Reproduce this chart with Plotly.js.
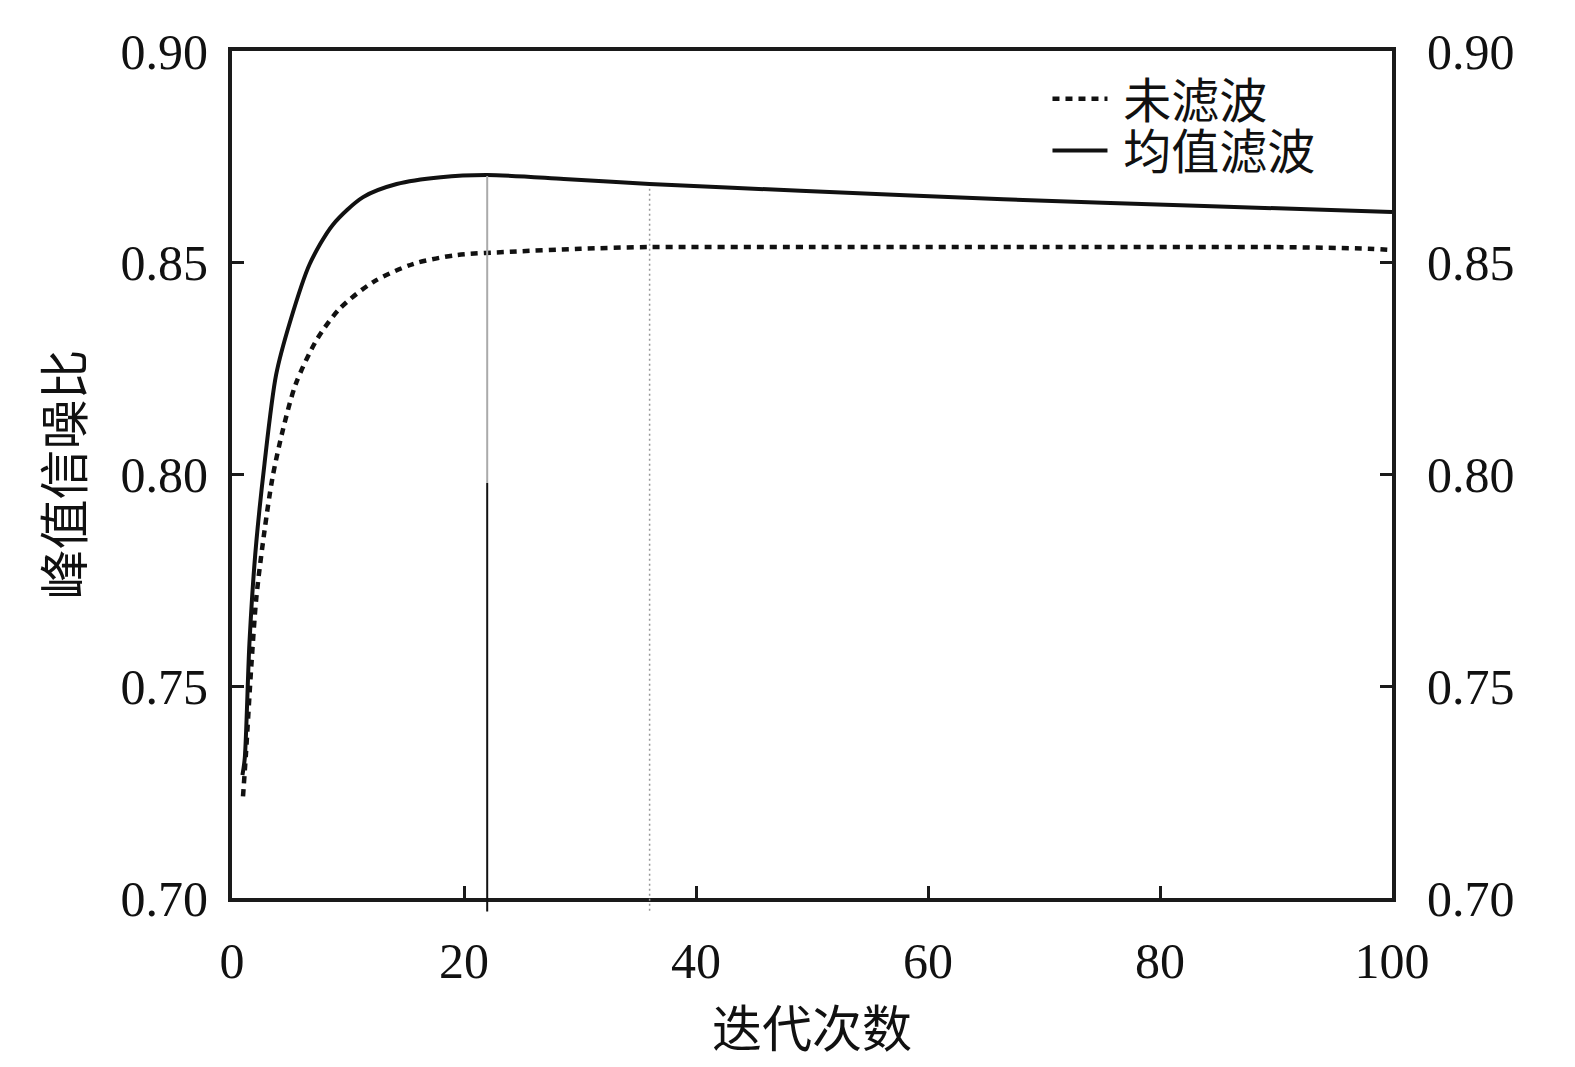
<!DOCTYPE html>
<html>
<head>
<meta charset="utf-8">
<script src="https://cdn.plot.ly/plotly-3.0.1.min.js"></script>
<style>
  html, body { margin: 0; padding: 0; background: #fff; }
  #chart { width: 1575px; height: 1067px; }
</style>
</head>
<body>
<div id="chart"></div>
<script>
// PSNR vs iteration count
const rawIter = [0.95, 1.2, 1.67, 2.1, 2.8, 3.5, 4.4, 5.5, 7.3, 9.3, 12.2, 15.6, 19.3, 24, 30, 36, 50, 70, 90, 98, 100];
const rawPsnr = [0.724, 0.734, 0.755, 0.771, 0.7867, 0.7994, 0.8107, 0.8214, 0.8318, 0.8392, 0.8455, 0.8497, 0.8518, 0.8526, 0.8533, 0.8537, 0.8537, 0.8537, 0.8537, 0.8533, 0.8530];

const meanIter = [0.9, 1.1, 1.5, 2, 2.8, 3.8, 5, 6.7, 8.7, 11.3, 14.2, 18, 22, 28.6, 36, 49, 66.5, 83.8, 100];
const meanPsnr = [0.729, 0.733, 0.760, 0.781, 0.8025, 0.8235, 0.836, 0.8497, 0.859, 0.8655, 0.8686, 0.8702, 0.8707, 0.8698, 0.8686, 0.867, 0.865, 0.8634, 0.862];

const seriesNames = ["未滤波", "均值滤波"];
const xTicks = [0, 20, 40, 60, 80, 100];
const yTicks = [0.70, 0.75, 0.80, 0.85, 0.90];
const xRange = [0, 100];
const yRange = [0.70, 0.90];

// vertical marker lines (iteration where each curve peaks / settles)
const markIter = [22, 36];
const markTop = [0.8705, 0.868];
const markSplit = 0.798;
const markBottom = 0.697;

const SERIF = "Liberation Serif, Noto Sans CJK SC, serif";
const CJK = "Noto Sans CJK SC";
const toPaper = (v) => (v - yRange[0]) / (yRange[1] - yRange[0]);

const traces = [
  {
    x: rawIter, y: rawPsnr, name: " " + seriesNames[0], mode: "lines",
    line: { color: "#111", width: 4.5, dash: "7px,6px", shape: "spline", smoothing: 0.8 },
    legend: "legend", hoverinfo: "skip",
  },
  {
    x: meanIter, y: meanPsnr, name: " " + seriesNames[1], mode: "lines",
    line: { color: "#111", width: 4, shape: "spline", smoothing: 0.8 },
    legend: "legend2", hoverinfo: "skip",
  },
  { x: [null], y: [null], yaxis: "y2", showlegend: false, hoverinfo: "skip" },
];

const axisCommon = {
  showline: true, linecolor: "#1a1a1a", linewidth: 4,
  ticks: "inside", ticklen: 12, tickwidth: 3, tickcolor: "#1a1a1a",
  showgrid: false, zeroline: false,
  tickfont: { family: SERIF, size: 50, color: "#111" },
};

const legendCommon = {
  xanchor: "left", yanchor: "top",
  bgcolor: "rgba(0,0,0,0)", borderwidth: 0,
  font: { family: CJK, size: 48, color: "#111" },
  itemwidth: 55, tracegroupgap: 0,
};

const shapes = [
  { type: "line", xref: "x", yref: "y", x0: markIter[0], x1: markIter[0], y0: markSplit, y1: markTop[0],
    line: { color: "#aaaaaa", width: 2 } },
  { type: "line", xref: "x", yref: "paper", x0: markIter[0], x1: markIter[0],
    y0: toPaper(markBottom) - 0.001, y1: toPaper(markSplit),
    line: { color: "#111", width: 2 } },
  { type: "line", xref: "x", yref: "paper", x0: markIter[1], x1: markIter[1],
    y0: toPaper(markBottom), y1: toPaper(markTop[1]),
    line: { color: "#999", width: 1.5, dash: "2px,3px" } },
];

const layout = {
  width: 1575, height: 1067,
  margin: { l: 232, r: 183, t: 51, b: 169 },
  paper_bgcolor: "#fff", plot_bgcolor: "#fff",
  font: { family: SERIF, color: "#111" },
  showlegend: true,
  legend: { ...legendCommon, x: 0.703, y: 0.988 },
  legend2: { ...legendCommon, x: 0.703, y: 0.927 },
  xaxis: {
    ...axisCommon, range: xRange, tickvals: xTicks, mirror: true,
    ticklabelstandoff: 16,
    title: { text: "迭代次数", font: { family: CJK, size: 50, color: "#111" }, standoff: 25 },
  },
  yaxis: {
    ...axisCommon, range: yRange, tickvals: yTicks, tickformat: ".2f",
    ticklabelstandoff: 10,
    title: { text: "峰值信噪比", font: { family: CJK, size: 50, color: "#111" }, standoff: 22 },
  },
  yaxis2: {
    ...axisCommon, range: yRange, tickvals: yTicks, tickformat: ".2f",
    overlaying: "y", side: "right", anchor: "x",
    ticklabelstandoff: 21,
  },
  shapes: shapes,
};

Plotly.newPlot("chart", traces, layout, { staticPlot: true, displayModeBar: false });
</script>
</body>
</html>
